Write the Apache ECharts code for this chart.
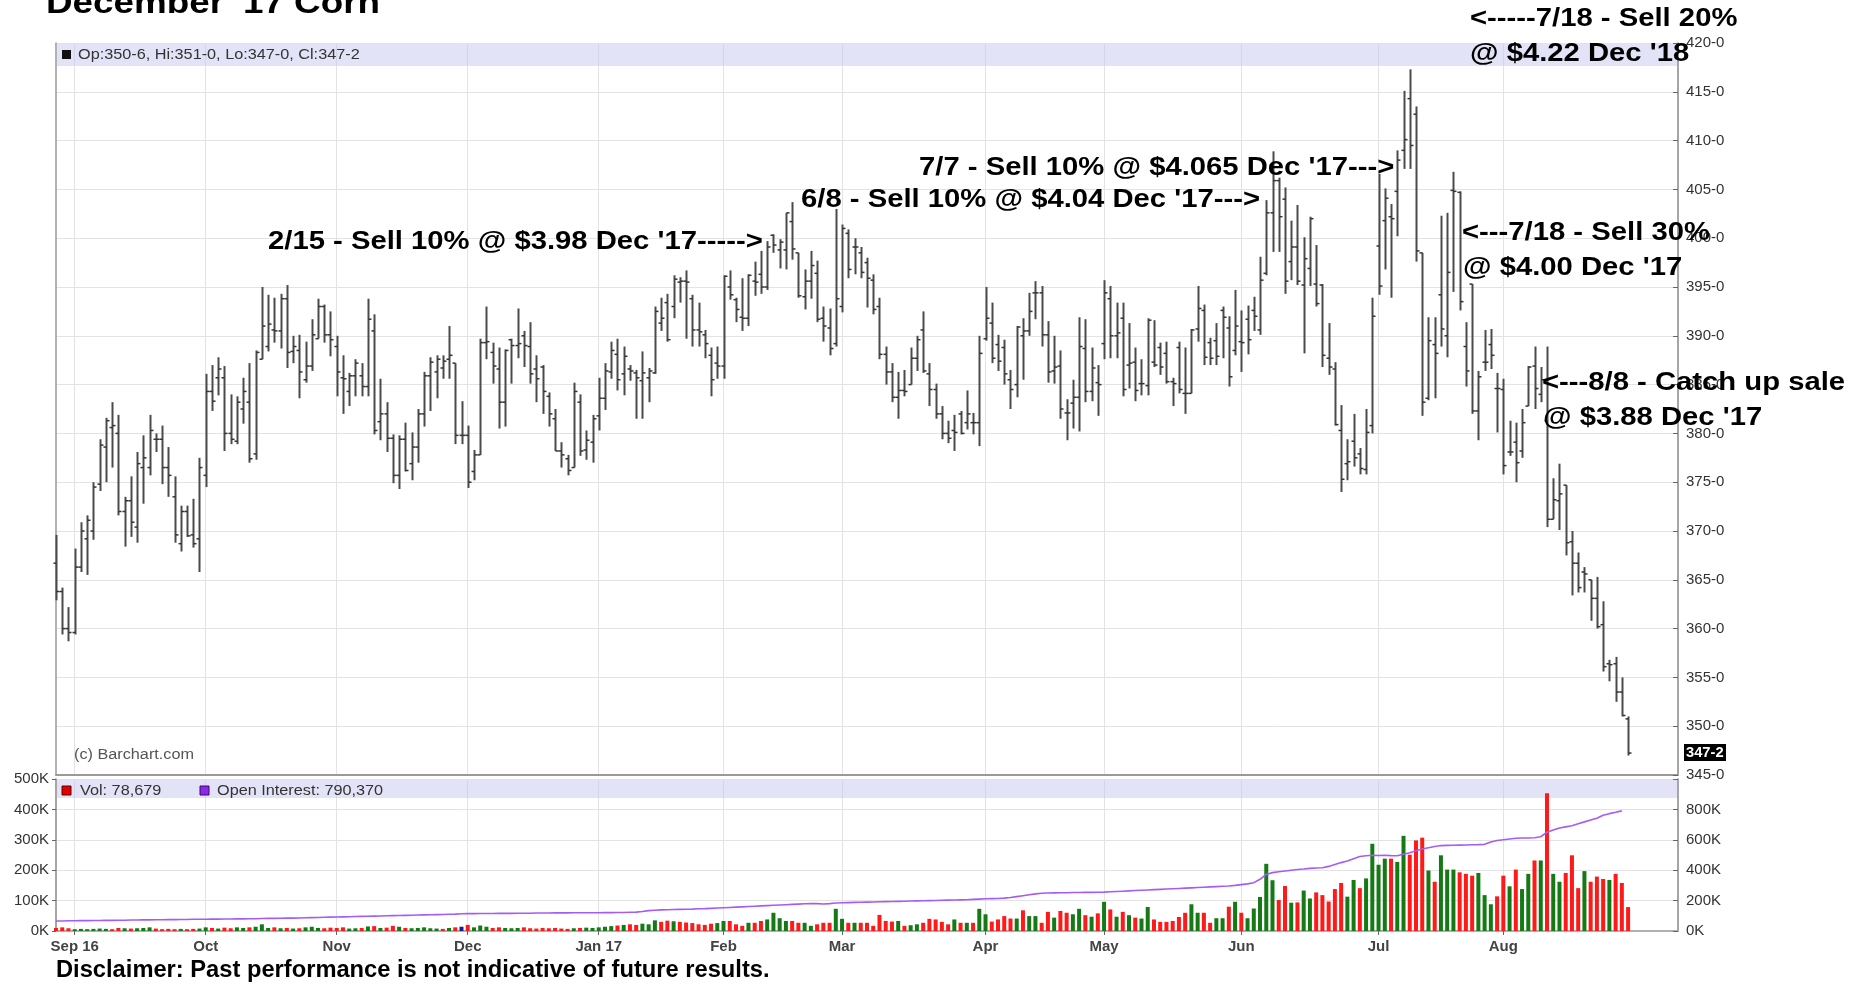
<!DOCTYPE html>
<html style="height: 100%">
<head>
    <meta charset="utf-8">
</head>
<body style="height: 100%; margin: 0; background: #fff">
    <div id="container" style="width: 1866px; height: 984px"></div>
    <script src="https://cdn.jsdelivr.net/npm/echarts@6/dist/echarts.min.js"></script>
    <script type="text/javascript">
        var dom = document.getElementById('container');
        var myChart = echarts.init(dom);

        // trading calendar
        var firstDay = '2016-08-29';
        var holidays = ['2016-09-05', '2016-11-24', '2016-12-26', '2017-01-02', '2017-01-16',
            '2017-02-20', '2017-04-14', '2017-05-29', '2017-07-04'];
        var monthStarts = ['2016-09-01', '2016-10-03', '2016-11-01', '2016-12-01', '2017-01-03', '2017-02-01',
            '2017-03-01', '2017-04-03', '2017-05-01', '2017-06-01', '2017-07-03', '2017-08-01'];
        var monthNames = ['Sep 16', 'Oct', 'Nov', 'Dec', 'Jan 17', 'Feb', 'Mar', 'Apr', 'May', 'Jun', 'Jul', 'Aug'];
        var padSlots = 8;

        // Dec '17 corn, cents per bushel
        var opens = [
            366.7, 363.8, 360.0, 359.6, 366.3, 369.2, 370.0, 374.8, 378.6, 380.6,
            380.0, 372.0, 373.1, 370.4, 376.5, 376.5, 379.4, 379.4, 376.5, 373.5,
            368.7, 372.0, 369.6, 369.2, 375.7, 384.3, 385.7, 385.7, 380.0, 379.2,
            382.5, 383.2, 377.9, 387.6, 388.9, 390.6, 390.5, 393.8, 388.4, 388.5,
            385.5, 386.9, 389.7, 393.0, 390.1, 388.9, 385.7, 384.3, 385.9, 385.9,
            384.8, 390.5, 381.2, 382.0, 379.5, 375.7, 379.4, 376.9, 378.6, 382.0,
            385.9, 386.3, 386.7, 387.6, 387.2, 379.8, 379.8, 376.1, 377.8, 389.3,
            388.3, 386.6, 383.2, 389.6, 389.0, 390.0, 388.9, 386.6, 386.8, 383.8,
            381.5, 378.2, 377.4, 376.5, 383.2, 378.3, 379.1, 381.8, 383.6, 386.3,
            388.1, 386.1, 386.6, 386.2, 385.4, 385.7, 386.2, 391.3, 393.4, 393.0,
            395.5, 395.6, 393.8, 390.6, 390.1, 388.0, 387.2, 386.9, 395.0, 393.7,
            391.9, 391.8, 395.6, 396.3, 395.0, 400.3, 398.8, 398.8, 401.7, 398.5,
            394.0, 395.6, 396.4, 391.8, 390.8, 389.2, 393.0, 400.5, 399.1, 398.5,
            397.5, 395.7, 393.0, 388.1, 386.3, 383.7, 384.4, 385.0, 387.7, 390.6,
            386.1, 384.5, 382.0, 380.0, 380.3, 382.0, 381.1, 381.1, 381.1, 389.7,
            391.3, 389.1, 388.8, 385.5, 385.0, 390.0, 390.5, 394.4, 394.4, 390.1,
            386.4, 386.9, 382.1, 383.1, 383.7, 388.7, 384.3, 385.2, 389.2, 393.8,
            390.0, 391.8, 387.0, 387.3, 385.1, 384.9, 387.3, 388.8, 388.2, 385.3,
            388.8, 384.1, 384.1, 390.7, 392.6, 389.3, 389.5, 392.6, 390.8, 388.5,
            389.4, 391.7, 392.6, 390.6, 396.4, 402.6, 405.9, 404.0, 397.6, 399.1,
            395.2, 396.9, 395.3, 395.2, 387.7, 386.6, 380.3, 376.9, 379.2, 377.9,
            376.3, 380.8, 399.2, 401.8, 402.2, 404.8, 409.0, 414.3, 412.7, 398.5,
            383.6, 389.1, 394.2, 390.0, 404.9, 404.7, 388.9, 395.3, 382.3, 387.3,
            389.1, 384.6, 384.5, 378.1, 379.1, 378.2, 382.8, 386.9, 384.0, 381.3,
            371.2, 373.1, 374.7, 368.9, 366.7, 365.8, 365.0, 363.1, 360.4, 356.4,
            356.4, 353.5, 350.75
        ];
        var highs = [
            369.6, 364.2, 362.2, 368.2, 370.9, 371.6, 375.0, 379.4, 381.6, 383.2,
            381.9, 373.5, 375.6, 378.1, 379.8, 381.9, 380.0, 380.8, 378.6, 375.6,
            372.6, 372.6, 373.3, 377.5, 386.1, 387.0, 387.8, 386.9, 384.0, 383.8,
            385.7, 387.2, 388.5, 395.0, 394.2, 393.9, 394.3, 395.2, 390.0, 390.1,
            389.4, 391.7, 393.8, 393.2, 392.5, 390.0, 388.0, 386.2, 387.6, 387.2,
            393.8, 392.2, 385.6, 383.2, 379.9, 379.8, 381.1, 380.1, 382.5, 386.3,
            387.8, 388.0, 388.0, 391.0, 387.2, 383.3, 380.8, 378.3, 389.7, 393.0,
            389.3, 388.8, 388.6, 389.7, 392.8, 390.5, 391.4, 388.0, 387.0, 384.2,
            382.5, 379.1, 377.8, 385.2, 384.0, 380.3, 381.9, 385.7, 387.2, 389.4,
            389.7, 388.9, 387.0, 386.5, 388.4, 386.7, 393.0, 393.9, 394.3, 396.2,
            396.0, 396.7, 394.2, 393.4, 390.6, 388.8, 388.9, 396.2, 396.7, 393.9,
            395.9, 396.3, 397.6, 398.7, 399.7, 400.4, 399.9, 402.6, 403.7, 398.5,
            396.8, 398.7, 397.7, 393.0, 392.8, 403.0, 401.4, 400.9, 400.0, 399.1,
            398.0, 396.3, 393.9, 388.9, 387.2, 386.3, 386.5, 388.8, 390.0, 392.5,
            387.2, 385.1, 382.8, 381.3, 381.9, 382.3, 384.4, 382.1, 390.0, 395.0,
            393.4, 390.1, 389.6, 386.5, 391.0, 391.8, 394.4, 395.6, 395.1, 391.5,
            390.0, 388.5, 383.5, 385.5, 391.9, 391.7, 388.8, 387.0, 395.7, 395.1,
            393.4, 393.4, 391.3, 388.8, 387.6, 391.8, 391.6, 389.3, 389.4, 385.7,
            389.4, 388.8, 390.7, 395.1, 393.2, 389.8, 391.3, 393.0, 392.0, 394.7,
            392.6, 393.1, 394.0, 398.1, 403.9, 408.9, 406.2, 405.2, 401.8, 403.4,
            400.1, 402.2, 399.3, 395.3, 391.3, 387.3, 382.9, 379.4, 382.0, 378.5,
            382.5, 393.9, 406.6, 405.1, 403.5, 409.0, 415.1, 417.3, 413.5, 398.5,
            391.9, 391.9, 402.3, 402.6, 406.8, 404.8, 391.4, 395.3, 386.4, 390.6,
            390.7, 386.2, 385.6, 381.3, 381.1, 382.5, 386.9, 388.9, 386.8, 388.9,
            375.4, 376.9, 374.7, 370.0, 367.8, 366.3, 365.0, 365.3, 362.8, 356.8,
            357.1, 355.0, 351.0
        ];
        var lows = [
            362.9, 359.4, 358.7, 359.4, 365.8, 365.5, 369.1, 374.1, 375.0, 376.5,
            371.6, 368.4, 369.4, 368.8, 372.8, 375.7, 378.1, 374.8, 373.5, 368.8,
            367.9, 369.4, 368.3, 365.8, 374.5, 382.3, 383.9, 378.2, 378.9, 378.9,
            381.0, 377.0, 377.3, 387.6, 388.4, 389.3, 388.7, 386.7, 387.2, 383.6,
            385.2, 386.4, 389.7, 389.3, 387.9, 383.8, 382.0, 382.8, 383.8, 383.8,
            383.8, 379.9, 379.3, 378.1, 374.9, 374.3, 376.1, 375.2, 377.0, 380.7,
            382.3, 383.6, 385.6, 385.6, 378.9, 378.9, 374.4, 375.2, 377.8, 387.6,
            385.1, 380.5, 380.7, 385.1, 387.7, 386.8, 385.1, 383.2, 382.0, 380.7,
            378.2, 376.5, 375.7, 376.5, 377.7, 377.3, 377.0, 380.3, 382.4, 385.6,
            384.4, 383.9, 385.4, 381.5, 381.5, 383.2, 386.1, 390.5, 389.4, 391.8,
            393.4, 389.7, 388.9, 388.9, 387.7, 383.8, 385.6, 385.6, 393.7, 391.4,
            390.5, 391.0, 394.1, 394.3, 394.7, 398.5, 396.9, 396.8, 397.8, 393.9,
            392.7, 393.8, 391.4, 389.4, 388.0, 388.9, 392.4, 395.9, 396.3, 395.9,
            392.9, 392.2, 387.6, 385.0, 383.2, 381.5, 383.8, 385.0, 386.4, 386.2,
            382.8, 381.5, 379.4, 379.0, 378.2, 379.9, 380.4, 379.9, 378.7, 389.5,
            387.2, 386.4, 385.0, 382.5, 383.7, 385.5, 390.0, 391.7, 388.9, 385.2,
            385.1, 381.5, 379.3, 380.5, 380.2, 383.2, 383.3, 381.8, 387.6, 387.7,
            387.7, 383.8, 384.6, 383.3, 383.9, 383.9, 386.8, 386.0, 385.1, 382.8,
            384.1, 382.0, 384.1, 389.4, 387.0, 387.0, 387.0, 387.7, 384.8, 388.0,
            386.3, 388.1, 390.5, 390.1, 396.2, 398.6, 398.6, 394.3, 395.7, 395.2,
            388.2, 395.1, 393.0, 386.8, 386.0, 380.8, 374.0, 375.2, 376.6, 375.8,
            375.8, 380.0, 394.2, 396.8, 393.9, 400.2, 407.1, 407.1, 397.6, 381.8,
            383.4, 383.6, 388.9, 387.8, 394.5, 392.6, 384.8, 382.0, 379.3, 386.4,
            386.6, 380.1, 375.8, 377.7, 375.0, 377.5, 382.8, 382.5, 383.2, 370.4,
            371.2, 370.1, 367.5, 363.4, 363.7, 363.7, 360.8, 360.0, 355.6, 354.6,
            352.5, 351.0, 347.0
        ];
        var closes = [
            363.8, 360.0, 359.6, 366.3, 370.0, 371.1, 374.5, 378.8, 381.3, 380.8,
            372.0, 373.1, 370.9, 376.9, 377.5, 380.3, 379.4, 376.5, 375.7, 369.6,
            372.0, 369.5, 368.7, 376.5, 384.3, 383.3, 386.6, 380.0, 379.4, 383.2,
            384.3, 377.4, 388.3, 391.0, 391.2, 390.5, 393.8, 388.3, 388.9, 386.3,
            386.9, 390.1, 393.0, 390.1, 389.6, 386.3, 385.6, 385.9, 387.2, 384.8,
            391.7, 380.3, 382.0, 379.5, 375.7, 379.4, 376.2, 378.6, 382.0, 385.9,
            387.3, 387.6, 387.4, 388.0, 379.8, 379.8, 375.0, 377.8, 389.3, 389.4,
            386.9, 383.2, 388.5, 389.0, 389.2, 389.0, 386.1, 385.6, 384.3, 382.0,
            378.2, 377.8, 376.2, 384.3, 378.2, 379.3, 381.5, 383.6, 386.4, 388.5,
            385.5, 387.9, 386.4, 385.7, 386.2, 386.4, 392.5, 391.8, 389.6, 395.8,
            395.6, 395.5, 390.6, 390.4, 389.2, 385.5, 386.9, 396.1, 394.2, 392.7,
            391.8, 396.2, 395.5, 395.0, 399.1, 399.3, 399.6, 402.6, 398.9, 394.1,
            395.6, 397.2, 391.7, 391.0, 388.7, 393.8, 401.0, 396.8, 399.1, 396.5,
            395.9, 392.7, 388.1, 386.3, 383.7, 384.4, 384.3, 387.7, 389.6, 386.4,
            384.5, 382.0, 380.0, 379.5, 380.1, 380.0, 382.0, 381.1, 388.2, 391.8,
            387.7, 387.4, 386.1, 384.5, 390.9, 390.5, 392.5, 394.4, 390.1, 386.3,
            386.8, 382.5, 382.1, 383.7, 388.9, 384.3, 386.7, 385.0, 394.4, 390.0,
            390.3, 384.5, 387.2, 384.4, 385.1, 391.6, 387.0, 386.8, 385.3, 385.1,
            384.5, 384.1, 390.6, 392.8, 387.8, 387.7, 387.9, 391.9, 385.8, 391.0,
            389.3, 389.6, 392.0, 395.7, 402.6, 405.9, 402.2, 395.6, 399.1, 395.6,
            397.9, 402.0, 393.3, 388.0, 386.8, 380.9, 375.3, 377.1, 377.5, 376.4,
            380.1, 392.0, 395.1, 404.1, 402.0, 408.0, 410.1, 409.5, 398.7, 383.2,
            389.5, 388.2, 390.7, 396.5, 404.8, 393.5, 386.4, 382.3, 385.8, 387.3,
            388.0, 384.6, 376.7, 378.1, 377.0, 381.1, 386.8, 384.6, 385.5, 371.2,
            373.2, 373.8, 368.8, 366.7, 364.2, 365.6, 363.1, 360.2, 356.1, 356.3,
            353.5, 351.1, 347.25
        ];
        // volume, thousands of contracts
        var volumes = [
            10, 12, 9, 6, 7, 6, 7, 8, 7, 6,
            10, 9, 8, 9, 10, 12, 8, 6, 7, 6,
            7, 6, 7, 8, 12, 10, 8, 11, 9, 12,
            10, 12, 14, 22, 10, 12, 9, 10, 8, 9,
            12, 14, 10, 9, 11, 10, 12, 8, 9, 10,
            15, 16, 10, 11, 17, 14, 10, 9, 10, 12,
            9, 8, 7, 10, 12, 14, 20, 12, 18, 14,
            10, 12, 10, 9, 10, 12, 9, 8, 10, 9,
            10, 8, 7, 9, 10, 11, 10, 12, 14, 16,
            18, 20, 22, 20, 24, 22, 35, 30, 34, 32,
            30, 28, 26, 22, 20, 24, 26, 33, 33, 22,
            17, 27, 27, 33, 38, 60, 42, 33, 33, 27,
            27, 17, 22, 27, 27, 73, 40, 27, 27, 27,
            27, 17, 53, 33, 31, 33, 17, 19, 22, 27,
            40, 38, 30, 22, 38, 27, 27, 27, 73, 55,
            31, 38, 49, 41, 41, 68, 49, 49, 27, 63,
            44, 66, 60, 55, 73, 52, 47, 58, 96, 71,
            47, 63, 52, 44, 41, 79, 38, 30, 30, 33,
            46, 60, 88, 60, 60, 27, 42, 42, 80, 96,
            60, 42, 74, 112, 221, 167, 102, 148, 93, 94,
            133, 107, 127, 118, 97, 138, 158, 113, 168, 141,
            173, 287, 218, 238, 238, 227, 313, 251, 298, 307,
            199, 162, 249, 202, 202, 193, 188, 182, 191, 118,
            88, 114, 182, 147, 202, 138, 188, 232, 232, 453,
            188, 162, 191, 249, 141, 197, 162, 179, 171, 168,
            188, 158, 78.679
        ];
        // open interest, thousands of contracts
        var openInterest = [
            66, 66, 67, 67, 68, 68, 69, 69, 70, 70,
            71, 71, 72, 72, 73, 73, 74, 74, 75, 75,
            76, 76, 77, 77, 77, 78, 78, 79, 79, 80,
            80, 81, 81, 82, 83, 83, 84, 85, 85, 86,
            87, 88, 89, 90, 91, 92, 93, 94, 95, 96,
            97, 98, 99, 100, 101, 102, 103, 104, 105, 106,
            107, 108, 109, 110, 111, 113, 114, 114, 115, 115,
            115, 116, 116, 116, 117, 117, 117, 118, 118, 118,
            119, 119, 119, 120, 120, 120, 120, 120, 121, 121,
            122, 122, 123, 124, 128, 134, 137, 139, 140, 141,
            142, 143, 144, 146, 147, 149, 151, 153, 155, 157,
            159, 161, 163, 165, 167, 169, 171, 173, 175, 177,
            179, 181, 180, 178, 180, 184, 186, 187, 188, 189,
            190, 191, 192, 193, 194, 195, 196, 197, 198, 199,
            200, 201, 202, 203, 204, 205, 206, 208, 210, 212,
            213, 214, 216, 220, 226, 232, 238, 244, 248, 250,
            251, 252, 252, 253, 253, 254, 254, 255, 256, 258,
            260, 262, 264, 266, 268, 270, 272, 274, 276, 278,
            280, 282, 284, 286, 288, 290, 292, 294, 296, 300,
            305, 310, 318, 340, 372, 384, 390, 395, 400, 405,
            408, 412, 414, 416, 425, 438, 450, 460, 475, 490,
            495, 498, 497, 498, 496, 495, 505, 515, 528, 540,
            548, 556, 562, 563, 564, 565, 566, 567, 568, 570,
            585, 595, 600, 605, 610, 612, 612, 613, 620, 650,
            665, 678, 685, 692, 705, 718, 730, 742, 762, 772,
            781, 790.37, null
        ];

        // axis ranges
        var priceMin = 345, priceMax = 420, priceStep = 5;
        var volMax = 500, volStep = 100;
        var oiMax = 1000, oiStep = 200;

        var annotations = [
            {text: "2/15 - Sell 10% @ $3.98 Dec '17----->", x: 268, y: 242},
            {text: "6/8 - Sell 10% @ $4.04 Dec '17--->", x: 801, y: 200},
            {text: "7/7 - Sell 10% @ $4.065 Dec '17--->", x: 919, y: 168},
            {text: "<-----7/18 - Sell 20%", x: 1470, y: 19},
            {text: "@ $4.22 Dec '18", x: 1470, y: 54},
            {text: "<---7/18 - Sell 30%", x: 1462, y: 233},
            {text: "@ $4.00 Dec '17", x: 1463, y: 268},
            {text: "<---8/8 - Catch up sale", x: 1542, y: 383},
            {text: "@ $3.88 Dec '17", x: 1543, y: 418}
        ];

        function tradingDays(start, count) {
            var out = [];
            var d = new Date(start + 'T00:00:00Z');
            while (out.length < count) {
                var s = d.toISOString().slice(0, 10);
                var wd = d.getUTCDay();
                if (wd !== 0 && wd !== 6 && holidays.indexOf(s) < 0) {
                    out.push(s);
                }
                d.setUTCDate(d.getUTCDate() + 1);
            }
            return out;
        }

        var days = tradingDays(firstDay, closes.length);
        for (var k = 0; k < padSlots; k++) {
            days.push('pad' + k);
        }

        function isMonthStart(index, value) {
            return monthStarts.indexOf(value) > -1;
        }

        function eighths(v) {
            var whole = Math.floor(v);
            return whole + '-' + Math.round((v - whole) * 8);
        }

        function thousands(v) {
            return Math.round(v * 1000).toLocaleString('en-US');
        }

        var ohlcData = closes.map(function (c, i) {
            return [i, opens[i], highs[i], lows[i], c];
        });

        var volumeData = volumes.map(function (v, i) {
            var color = '#ff1a1a';
            if (i > 0 && closes[i] > closes[i - 1]) color = '#157a15';
            else if (i > 0 && closes[i] === closes[i - 1]) color = '#1a1a8c';
            return {value: v, itemStyle: {color: color}};
        });

        function renderOhlc(params, api) {
            var i = api.value(0);
            var hi = api.coord([i, api.value(2)]);
            var lo = api.coord([i, api.value(3)]);
            var op = api.coord([i, api.value(1)]);
            var cl = api.coord([i, api.value(4)]);
            var x = Math.round(hi[0]) + 0.5;
            return {
                type: 'group',
                children: [{
                    type: 'line',
                    shape: {x1: x, y1: hi[1], x2: x, y2: lo[1]},
                    style: {stroke: '#4a4a4a', lineWidth: 2}
                }, {
                    type: 'line',
                    shape: {x1: x - 3, y1: op[1], x2: x, y2: op[1]},
                    style: {stroke: '#333', lineWidth: 1.5}
                }, {
                    type: 'line',
                    shape: {x1: x, y1: cl[1], x2: x + 3, y2: cl[1]},
                    style: {stroke: '#333', lineWidth: 1.5}
                }]
            };
        }

        var font = '"Liberation Sans", Arial, sans-serif';
        var gridLine = {show: true, lineStyle: {color: '#e3e3e3', width: 1}};

        var option = {
            backgroundColor: '#fff',
            animation: false,
            textStyle: {fontFamily: font},
            grid: [{
                left: 56, top: 43, width: 1622, height: 732
            }, {
                left: 56, top: 779, width: 1622, height: 152
            }],
            xAxis: [{
                type: 'category', gridIndex: 0, data: days, boundaryGap: false,
                axisLine: {show: true, lineStyle: {color: '#9a9a9a', width: 2}},
                axisTick: {show: false},
                axisLabel: {show: false},
                splitLine: {show: true, interval: isMonthStart, lineStyle: {color: '#e3e3e3'}}
            }, {
                type: 'category', gridIndex: 1, data: days, boundaryGap: false,
                axisLine: {show: true, lineStyle: {color: '#888', width: 1.5}},
                axisTick: {show: true, interval: isMonthStart, length: 4, lineStyle: {color: '#666'}},
                axisLabel: {
                    interval: isMonthStart, margin: 8, color: '#444', fontSize: 15, fontWeight: 'bold',
                    formatter: function (v) {
                        return monthNames[monthStarts.indexOf(v)] || '';
                    }
                },
                splitLine: {show: true, interval: isMonthStart, lineStyle: {color: '#e3e3e3'}}
            }, {
                type: 'category', gridIndex: 1, data: days, boundaryGap: false, position: 'top',
                axisLine: {show: true, lineStyle: {color: '#b0b0b0', width: 2}},
                axisTick: {show: false}, axisLabel: {show: false}, splitLine: {show: false}
            }],
            yAxis: [{
                type: 'value', gridIndex: 0, position: 'right',
                min: priceMin, max: priceMax, interval: priceStep,
                axisLine: {show: true, lineStyle: {color: '#888', width: 1.5}},
                axisTick: {show: true, inside: true, length: 5, lineStyle: {color: '#666'}},
                axisLabel: {
                    margin: 8, color: '#333', fontSize: 15,
                    formatter: function (v) { return v + '-0'; }
                },
                splitLine: gridLine
            }, {
                type: 'value', gridIndex: 0, position: 'left',
                min: priceMin, max: priceMax,
                axisLine: {show: true, lineStyle: {color: '#999', width: 1.5}},
                axisTick: {show: false}, axisLabel: {show: false}, splitLine: {show: false}
            }, {
                type: 'value', gridIndex: 1, position: 'left',
                min: 0, max: volMax, interval: volStep,
                axisLine: {show: true, lineStyle: {color: '#888', width: 1.5}},
                axisTick: {show: true, length: 4, lineStyle: {color: '#666'}},
                axisLabel: {
                    margin: 7, color: '#333', fontSize: 15,
                    formatter: function (v) { return v + 'K'; }
                },
                splitLine: gridLine
            }, {
                type: 'value', gridIndex: 1, position: 'right',
                min: 0, max: oiMax, interval: oiStep,
                axisLine: {show: true, lineStyle: {color: '#888', width: 1.5}},
                axisTick: {show: true, inside: true, length: 5, lineStyle: {color: '#666'}},
                axisLabel: {
                    margin: 8, color: '#333', fontSize: 15,
                    formatter: function (v) { return v >= oiMax ? '' : v + 'K'; }
                },
                splitLine: {show: false}
            }],
            series: [{
                type: 'custom',
                name: 'Price',
                xAxisIndex: 0,
                yAxisIndex: 0,
                renderItem: renderOhlc,
                encode: {x: 0, y: [1, 2, 3, 4]},
                data: ohlcData,
                z: 3
            }, {
                type: 'bar',
                name: 'Vol',
                xAxisIndex: 1,
                yAxisIndex: 2,
                barWidth: 4,
                data: volumeData,
                z: 2
            }, {
                type: 'line',
                name: 'Open Interest',
                xAxisIndex: 1,
                yAxisIndex: 3,
                data: openInterest,
                showSymbol: false,
                connectNulls: false,
                lineStyle: {color: '#a65cf2', width: 1.6},
                itemStyle: {color: '#a65cf2'},
                z: 4
            }]
        };

        if (option && typeof option === 'object') {
            myChart.setOption(option, true);
        }

        // overlay texts, bands and the last-price tag
        var n = closes.length - 1;
        var lastY = myChart.convertToPixel({yAxisIndex: 0}, closes[n]);
        var header = 'Op:' + eighths(opens[n]) + ', Hi:' + eighths(highs[n]) +
            ', Lo:' + eighths(lows[n]) + ', Cl:' + eighths(closes[n]);
        var lastOi = openInterest[n] != null ? openInterest[n] : openInterest[n - 1];

        var elements = [{
            type: 'rect', shape: {x: 57, y: 44, width: 1620, height: 22},
            style: {fill: 'rgba(200,200,242,0.5)'}, silent: true
        }, {
            type: 'rect', shape: {x: 57, y: 780, width: 1620, height: 18},
            style: {fill: 'rgba(200,200,242,0.5)'}, silent: true
        }, {
            type: 'rect', shape: {x: 62, y: 50, width: 9, height: 9}, style: {fill: '#111'}
        }, {
            type: 'text', x: 78, y: 55, scaleX: 1.16,
            style: {text: header, font: '14px ' + font, fill: '#333', verticalAlign: 'middle'}
        }, {
            type: 'rect', shape: {x: 62, y: 786, width: 9, height: 9},
            style: {fill: '#e00000', stroke: '#600', lineWidth: 1}
        }, {
            type: 'text', x: 80, y: 791, scaleX: 1.16,
            style: {text: 'Vol: ' + thousands(volumes[n]), font: '14px ' + font, fill: '#333', verticalAlign: 'middle'}
        }, {
            type: 'rect', shape: {x: 200, y: 786, width: 9, height: 9},
            style: {fill: '#8a2be2', stroke: '#400080', lineWidth: 1}
        }, {
            type: 'text', x: 217, y: 791, scaleX: 1.16,
            style: {text: 'Open Interest: ' + thousands(lastOi), font: '14px ' + font, fill: '#333', verticalAlign: 'middle'}
        }, {
            type: 'text', x: 74, y: 755, scaleX: 1.16,
            style: {text: '(c) Barchart.com', font: '14px ' + font, fill: '#555', verticalAlign: 'middle'}
        }, {
            type: 'rect', shape: {x: 1684, y: Math.round(lastY) - 9, width: 42, height: 17},
            style: {fill: '#000'}
        }, {
            type: 'text', x: 1686, y: lastY, scaleX: 1.05,
            style: {text: eighths(closes[n]), font: 'bold 14px ' + font, fill: '#fff', verticalAlign: 'middle'}
        }, {
            type: 'text', x: 46, y: 4, scaleX: 1.15,
            style: {text: "December '17 Corn", font: 'bold 32px ' + font, fill: '#000', verticalAlign: 'middle'}
        }, {
            type: 'text', x: 56, y: 971, scaleX: 1.03,
            style: {
                text: 'Disclaimer: Past performance is not indicative of future results.',
                font: 'bold 23px ' + font, fill: '#000', verticalAlign: 'middle'
            }
        }];

        annotations.forEach(function (a) {
            elements.push({
                type: 'text', x: a.x, y: a.y, scaleX: 1.17, z: 100,
                style: {text: a.text, font: 'bold 25px ' + font, fill: '#000', verticalAlign: 'middle'}
            });
        });

        myChart.setOption({graphic: {elements: elements}});
    </script>
</body>
</html>
